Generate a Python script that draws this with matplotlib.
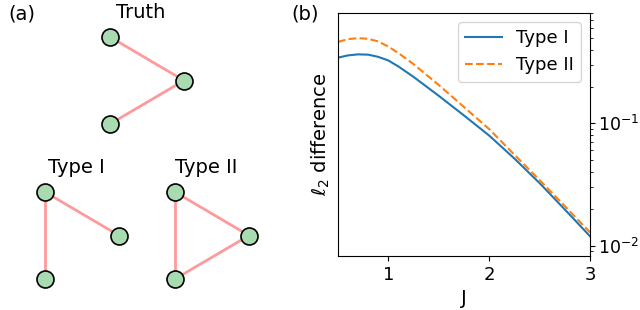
import matplotlib
matplotlib.use("Agg")
import matplotlib.pyplot as plt

plt.rcParams["font.family"] = "DejaVu Sans"

# curve data
J = [0.5, 0.6, 0.7, 0.8, 0.9, 1.0, 1.1, 1.25, 1.5, 1.75, 2.0, 2.25, 2.5, 2.75, 3.0]
type1 = [0.345, 0.360, 0.367, 0.365, 0.350, 0.327, 0.292, 0.240, 0.168,
         0.116, 0.0794, 0.0515, 0.0324, 0.0197, 0.0119]
type2 = [0.464, 0.489, 0.498, 0.492, 0.468, 0.425, 0.376, 0.305, 0.206,
         0.136, 0.0897, 0.0553, 0.0343, 0.021, 0.0128]

# graph drawings: three nodes, edges per graph
nodes = [(0, 1), (1, 0.5), (0, 0)]
graphs = ["Truth", "Type I", "Type II"]
edges = {
    "Truth": [(0, 1), (1, 2)],
    "Type I": [(0, 1), (0, 2)],
    "Type II": [(0, 1), (1, 2), (0, 2)],
}

fig = plt.figure(figsize=(6.4, 3.1), dpi=100)

# (a) panel, drawn in pixel-like coordinates
axa = fig.add_axes([0, 0, 0.45, 1])
axa.set_xlim(0, 288)
axa.set_ylim(310, 0)
axa.axis("off")
origins = {"Truth": (110, 124), "Type I": (45, 279), "Type II": (175, 279)}
sx, sy = 74, 87
for g in graphs:
    ox, oy = origins[g]
    px = [ox + sx * n[0] for n in nodes]
    py = [oy - sy * n[1] for n in nodes]
    for i, j in edges[g]:
        axa.plot([px[i], px[j]], [py[i], py[j]], color="#ff9a9a", lw=2, zorder=1)
    axa.scatter(px, py, s=150, color="#a8dcb0", edgecolors="black",
                linewidths=1.2, zorder=2)
    axa.text(ox + sx * 0.42, oy - sy - 19, g, ha="center", va="baseline",
             fontsize=14)
fig.text(0.034, 0.955, "(a)", fontsize=14, ha="center", va="center")
fig.text(0.477, 0.955, "(b)", fontsize=14, ha="center", va="center")

# (b) panel
ax = fig.add_axes([0.528, 0.174, 0.394, 0.784])
ax.plot(J, type1, color="C0", lw=1.5, label="Type I")
ax.plot(J, type2, color="C1", lw=1.5, ls="--", label="Type II")
ax.set_yscale("log")
ax.set_xlim(0.5, 3)
ax.set_ylim(0.0082, 0.8)
ax.yaxis.tick_right()
ax.set_xticks([1, 2, 3])
ax.tick_params(axis="x", labelsize=13)
ax.tick_params(axis="y", labelsize=12.5, pad=2)
ax.set_xlabel("J", fontsize=14)
ax.set_ylabel(r"$\ell_2$ difference", fontsize=14)
ax.legend(fontsize=13, loc="upper right")

fig.savefig("out.png", dpi=100)
